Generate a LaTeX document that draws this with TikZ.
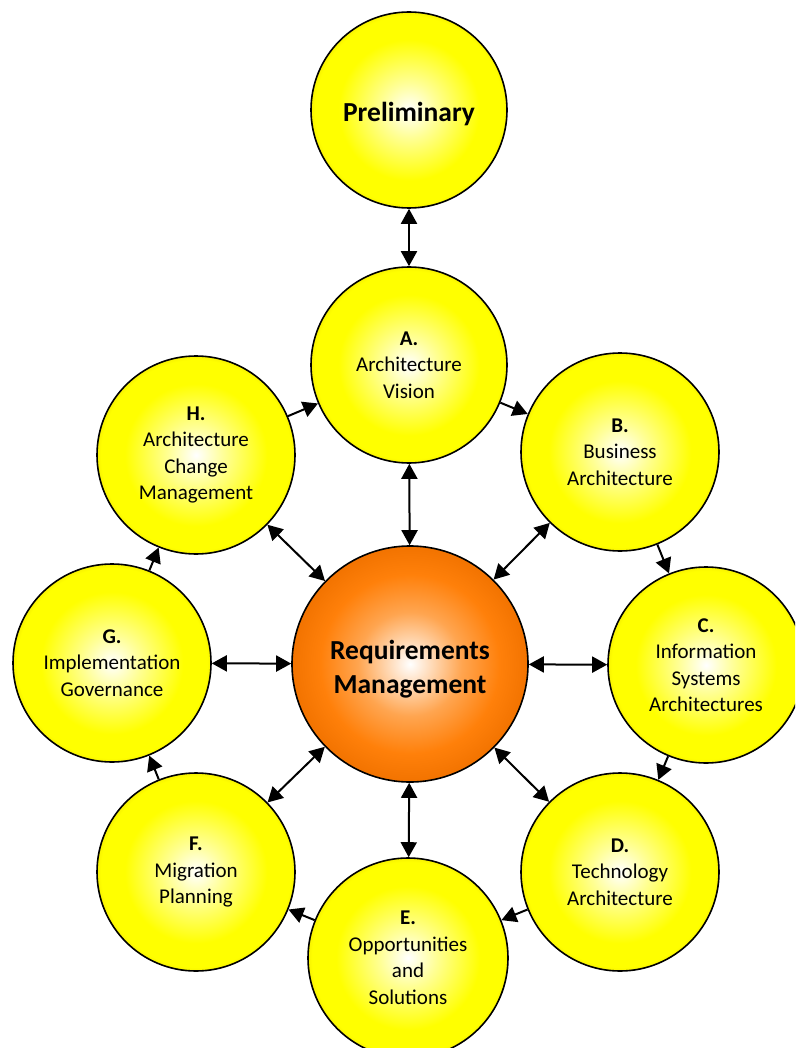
\documentclass[tikz,border=0pt]{standalone}
\usepackage{fontspec}
\setmainfont{Carlito}
\usetikzlibrary{arrows.meta}

% colour ramps for the phase discs
\definecolor{ylmid}{RGB}{255,255,150}
\definecolor{ylrim}{RGB}{248,242,0}
\definecolor{ormid}{RGB}{255,165,80}
\definecolor{orout}{RGB}{255,128,10}
\definecolor{orrim}{RGB}{242,115,0}
\pgfdeclareradialshading{yglow}{\pgfpoint{0bp}{0bp}}{%
  color(0bp)=(white); color(7bp)=(ylmid); color(18bp)=(yellow);
  color(24bp)=(yellow); color(25bp)=(ylrim); color(50bp)=(ylrim)}
\pgfdeclareradialshading{oglow}{\pgfpoint{0bp}{0bp}}{%
  color(0bp)=(white); color(11bp)=(ormid); color(19bp)=(orout);
  color(25bp)=(orrim); color(50bp)=(orrim)}

\begin{document}
\begin{tikzpicture}[x=1pt,y=-1pt,
  phase/.style={circle, draw=black, line width=1.6pt, shade, shading=yglow,
    minimum size=198pt, inner sep=0pt, align=center,
    font=\fontsize{21}{26.5}\selectfont},
  hub/.style={circle, draw=black, line width=1.6pt, shade, shading=oglow,
    minimum size=236pt, inner sep=0pt},
  bigtext/.style={align=center, inner sep=0pt,
    font=\bfseries\fontsize{27.5}{34}\selectfont},
  dbl/.style={line width=2pt, {Triangle[length=15pt,width=16pt]}-{Triangle[length=15pt,width=16pt]}},
  sgl/.style={line width=2pt, -{Triangle[length=15pt,width=16pt]}}]

\clip (0,0) rectangle (795,1048);
\fill[white] (0,0) rectangle (795,1048);

% phases of the cycle
\node[phase, minimum size=196pt] (P) at (409,110) {};
\node[bigtext] (Pt) at (409,114) {Preliminary};
\node[phase, minimum size=196pt] (A) at (409,365) {{\bfseries A.}\\Architecture\\Vision};
\node[phase] (B) at (620,452) {{\bfseries B.}\\Business\\Architecture};
\node[phase, minimum size=196pt] (C) at (706,665) {{\bfseries C.}\\Information\\Systems\\Architectures};
\node[phase] (D) at (620,872) {{\bfseries D.}\\Technology\\Architecture};
\node[phase, minimum size=200pt] (E) at (408,958) {{\bfseries E.}\\Opportunities\\and\\Solutions};
\node[phase] (F) at (196,872) {{\bfseries F.}\\Migration\\Planning};
\node[phase] (G) at (112,663) {{\bfseries G.}\\Implementation\\Governance};
\node[phase] (H) at (196,455) {{\bfseries H.}\\Architecture\\Change\\Management};

% central requirements hub
\node[hub] (R) at (410,664) {};
\node[bigtext] (Rt) at (410,669) {Requirements\\Management};

% links to the hub and to the preliminary phase
\draw[dbl] (P) -- (A);
\foreach \n in {A,B,C,D,E,F,G,H}
  \draw[dbl] (R) -- (\n);

% clockwise flow through the phases
\draw[sgl] (A) -- (B);
\draw[sgl] (B) -- (C);
\draw[sgl] (C) -- (D);
\draw[sgl] (D) -- (E);
\draw[sgl] (E) -- (F);
\draw[sgl] (F) -- (G);
\draw[sgl] (G) -- (H);
\draw[sgl] (H) -- (A);
\end{tikzpicture}
\end{document}
